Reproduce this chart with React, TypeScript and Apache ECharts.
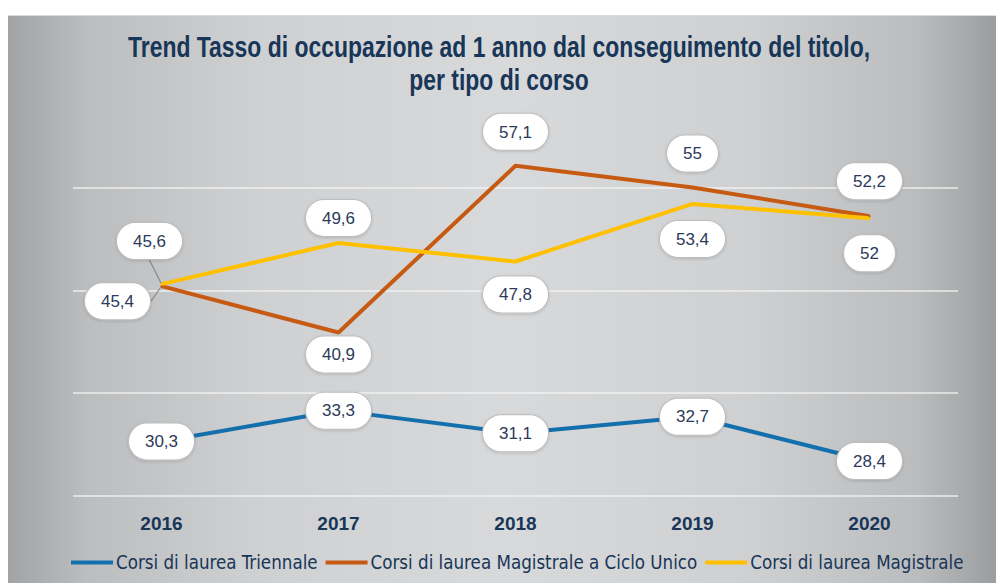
import React, { useEffect, useRef } from "react";
import * as echarts from "echarts";

const years = ["2016", "2017", "2018", "2019", "2020"];
const triennale = [30.3, 33.3, 31.1, 32.7, 28.4];
const cicloUnico = [45.4, 40.9, 57.1, 55, 52.2];
const magistrale = [45.6, 49.6, 47.8, 53.4, 52];
const gridValues = [25, 35, 45, 55];

const titleLines = [
  "Trend Tasso di occupazione ad 1 anno dal conseguimento del titolo,",
  "per tipo di corso",
];

const seriesNames = [
  "Corsi di laurea Triennale",
  "Corsi di laurea Magistrale a Ciclo Unico",
  "Corsi di laurea Magistrale",
];
const colors = ["#1470ad", "#c65a12", "#ffc000"];

// label placement per point (style only)
const cicloPos = ["inside", "bottom", "top", "top", "top"];
const cicloDist = [0, 3, 15, 15, 16];
const magPos = ["inside", "top", "bottom", "bottom", "bottom"];
const magDist = [0, 6, 14, 16, 16];

const NAVY = "#183658";
const LABEL_TXT = "#2d3a5a";
const TITLE_FONT = "bold 29px 'Liberation Sans', Arial, sans-serif";
const NARROW = "DejaVu Sans Condensed, Liberation Sans, sans-serif";

const fmt = (p: any) => String(p.value).replace(".", ",");

const baseLabel = {
  show: true,
  formatter: fmt,
  fontFamily: "Liberation Sans, Arial, sans-serif",
  fontSize: 17,
  color: LABEL_TXT,
  backgroundColor: "#ffffff",
  borderColor: "#bdbdbd",
  borderWidth: 1,
  borderRadius: 19,
  padding: [10, 16, 9, 16],
  shadowColor: "rgba(0,0,0,0.15)",
  shadowBlur: 3,
  shadowOffsetY: 1,
};

function measure(text: string, font: string) {
  const c = document.createElement("canvas").getContext("2d")!;
  c.font = font;
  return c.measureText(text).width;
}

export default function App() {
  const ref = useRef<HTMLDivElement>(null);

  useEffect(() => {
    document.body.style.margin = "0";
    document.body.style.overflow = "hidden";
    const chart = echarts.init(ref.current!, null, { renderer: "svg" });

    const w1 = measure(titleLines[0], TITLE_FONT) || 900;
    const sx = 743 / w1;

    const mkData = (vals: number[], pos: string[], dist: number[]) =>
      vals.map((v, i) => ({
        value: v,
        label: { position: pos[i], distance: dist[i] },
        labelLine: { show: i === 0 },
      }));

    chart.setOption({
      animation: false,
      backgroundColor: "transparent",
      graphic: titleLines.map((t, i) => ({
        type: "text",
        x: 491,
        y: 31 + i * 33,
        scaleX: sx,
        silent: true,
        style: {
          text: t,
          font: TITLE_FONT,
          fill: NAVY,
          align: "center",
          verticalAlign: "middle",
        },
      })),
      legend: {
        data: seriesNames,
        top: 532,
        left: 58,
        icon: "rect",
        itemWidth: 42,
        itemHeight: 4,
        itemGap: 8,
        textStyle: {
          fontFamily: NARROW,
          fontSize: 18.6,
          color: NAVY,
          padding: [0, 0, 0, -2],
        },
      },
      grid: { left: 65, right: 38, top: 120, bottom: 87 },
      xAxis: {
        type: "category",
        data: years,
        boundaryGap: true,
        axisLine: { show: false },
        axisTick: { show: false },
        axisLabel: {
          margin: 18,
          fontFamily: "Liberation Sans, Arial, sans-serif",
          fontWeight: "bold",
          fontSize: 19,
          color: NAVY,
        },
      },
      yAxis: {
        type: "value",
        min: 25,
        max: 60,
        show: false,
        splitLine: { show: false },
      },
      series: [
        {
          name: seriesNames[0],
          type: "line",
          data: triennale,
          color: colors[0],
          symbol: "circle",
          symbolSize: 2,
          lineStyle: { width: 4, color: colors[0] },
          label: { ...baseLabel, position: "inside" },
          markLine: {
            silent: true,
            symbol: "none",
            z: 1,
            label: { show: false },
            lineStyle: { color: "rgba(245,245,245,0.85)", width: 1.5, type: "solid" },
            data: gridValues.map((v) => ({ yAxis: v })),
          },
        },
        {
          name: seriesNames[1],
          type: "line",
          data: mkData(cicloUnico, cicloPos, cicloDist),
          color: colors[1],
          symbol: "circle",
          symbolSize: 2,
          lineStyle: { width: 4, color: colors[1] },
          label: baseLabel,
          labelLine: { show: false, lineStyle: { color: "#8a8a8a", width: 1.2 } },
          labelLayout: (p: any) => (p.dataIndex === 0 ? { dx: -44, dy: 15 } : {}),
        },
        {
          name: seriesNames[2],
          type: "line",
          data: mkData(magistrale, magPos, magDist),
          color: colors[2],
          symbol: "circle",
          symbolSize: 2,
          lineStyle: { width: 4, color: colors[2] },
          label: baseLabel,
          labelLine: { show: false, lineStyle: { color: "#8a8a8a", width: 1.2 } },
          labelLayout: (p: any) => (p.dataIndex === 0 ? { dx: -12, dy: -43 } : {}),
        },
      ],
    });
    return () => chart.dispose();
  }, []);

  return (
    <div
      style={{
        position: "fixed",
        left: 0,
        top: 0,
        width: 996,
        height: 583,
        background: "#ffffff",
      }}
    >
      <div
        ref={ref}
        style={{
          position: "absolute",
          left: 8,
          top: 15,
          width: 988,
          height: 568,
          borderTop: "1px solid #dcdcdc",
          boxSizing: "border-box",
          background:
            "linear-gradient(90deg, #a2a3a5 0%, #bcbdbf 8%, #cfd0d2 25%, #d8d9db 50%, #cfd0d2 75%, #bbbcbe 92%, #9c9d9f 100%)",
        }}
      />
    </div>
  );
}
